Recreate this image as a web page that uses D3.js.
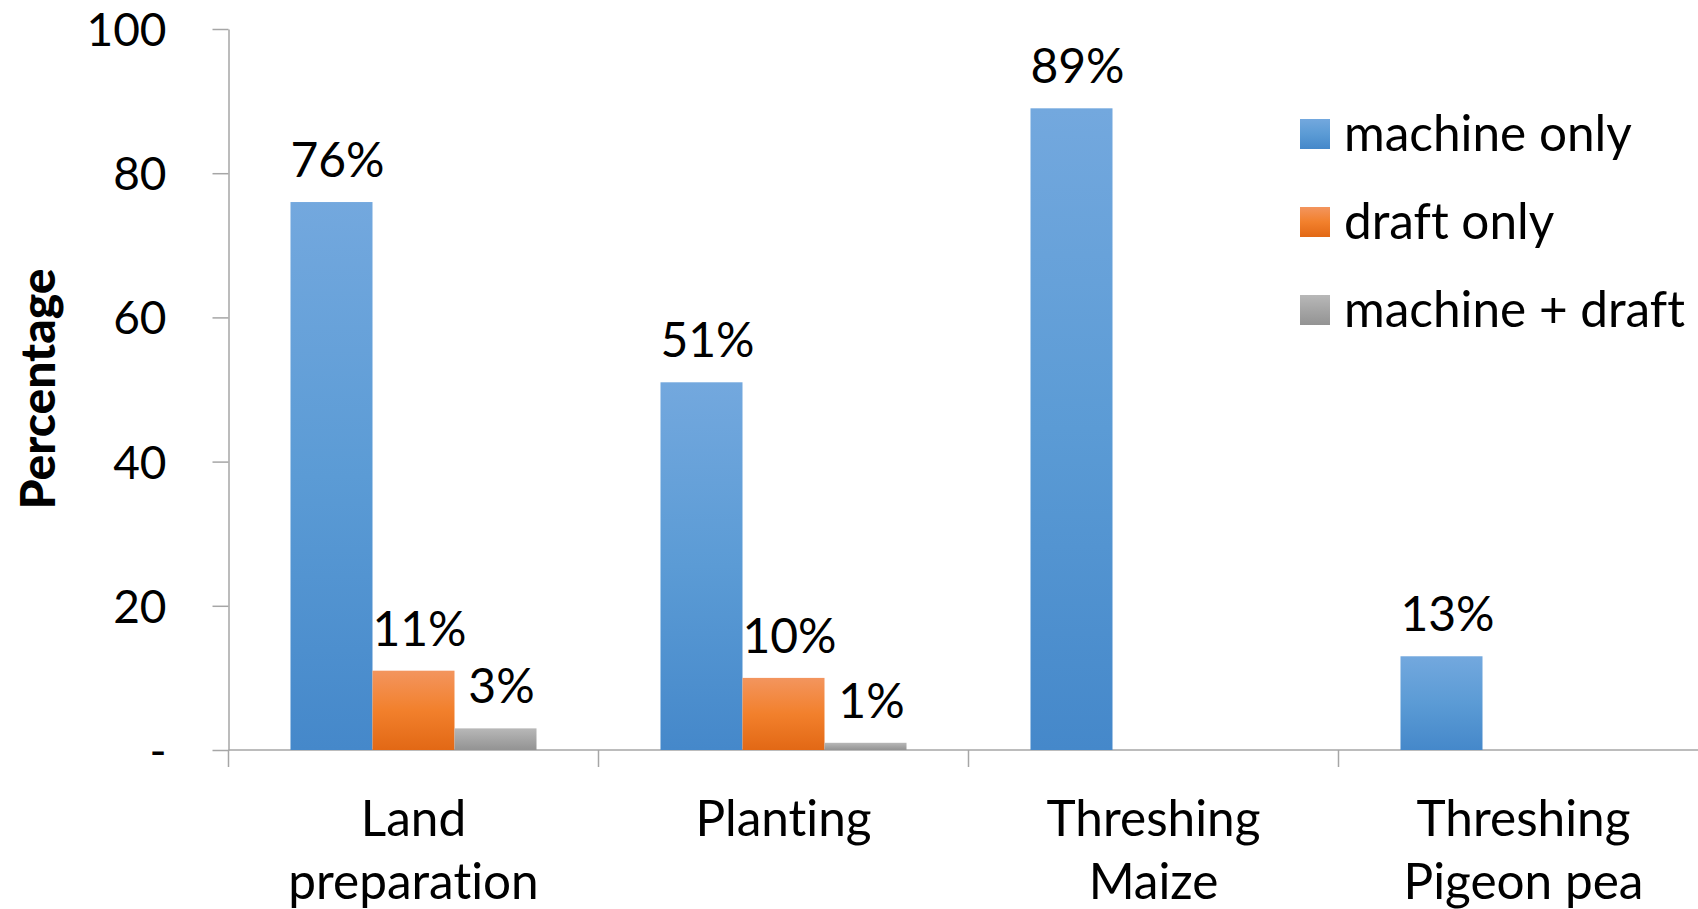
<!DOCTYPE html>
<html><head><meta charset="utf-8">
<script src="https://cdn.jsdelivr.net/npm/d3@7"></script>
<style>
html,body{margin:0;padding:0;background:#fff;}
svg{display:block;}
text{font-family:Lato,"Open Sans",sans-serif;fill:#000;font-variant-ligatures:none;font-feature-settings:"liga" 0,"dlig" 0;}
</style></head>
<body><svg id="chart" width="1698" height="909"></svg>
<script>
const categories = ["Land preparation", "Planting", "Threshing Maize", "Threshing Pigeon pea"];
const categoryLines = [["Land", "preparation"], ["Planting"], ["Threshing", "Maize"], ["Threshing", "Pigeon pea"]];
const seriesNames = ["machine only", "draft only", "machine + draft"];
const machineOnly = [76, 51, 89, 13];
const draftOnly = [11, 10, 0, 0];
const machinePlusDraft = [3, 1, 0, 0];
const yTickValues = [0, 20, 40, 60, 80, 100];
const yTickLabels = ["-", "20", "40", "60", "80", "100"];
const yTitle = "Percentage";

const seriesValues = [machineOnly, draftOnly, machinePlusDraft];
const gradStops = [
  ["#73a8de", "#5b9bd5", "#4588ca"],
  ["#f3955e", "#f2802c", "#e26815"],
  ["#b8b8b8", "#a5a5a5", "#939393"]
];

const svg = d3.select("#chart");
const defs = svg.append("defs");
gradStops.forEach((s, i) => {
  const g = defs.append("linearGradient").attr("id", "g" + i)
    .attr("x1", 0).attr("y1", 0).attr("x2", 0).attr("y2", 1);
  g.append("stop").attr("offset", "0%").attr("stop-color", s[0]);
  g.append("stop").attr("offset", "50%").attr("stop-color", s[1]);
  g.append("stop").attr("offset", "100%").attr("stop-color", s[2]);
});

const x = d3.scaleBand().domain(categories).range([228.5, 1708.5]).paddingInner(0).paddingOuter(0);
const x1 = d3.scaleBand().domain(seriesNames).range([0, x.bandwidth()]).paddingInner(0).paddingOuter(0.756);
const y = d3.scaleLinear().domain([0, 100]).range([750, 29]);

const axisColor = "#a6a6a6";
const fs = 48;

// Y axis
const yAxis = d3.axisLeft(y).tickValues(yTickValues)
  .tickFormat((d, i) => yTickLabels[i]).tickSize(16).tickSizeOuter(0).tickPadding(46);
const gy = svg.append("g").attr("transform", "translate(228.5,0)").call(yAxis);
gy.select(".domain").attr("stroke", axisColor).attr("stroke-width", 1.5);
gy.selectAll(".tick line").attr("stroke", axisColor).attr("stroke-width", 1.5);
gy.selectAll(".tick text").style("font-size", "46px").style("font-family", "Lato")
  .attr("dy", "0.36em").attr("fill", "#000");

// X axis baseline
svg.append("line").attr("x1", x.range()[0]).attr("x2", 1698).attr("y1", y(0)).attr("y2", y(0))
  .attr("stroke", axisColor).attr("stroke-width", 1.5);
const bounds = categories.map(c => x(c)).concat([x.range()[1]]);
svg.selectAll(".xtick").data(bounds).join("line").attr("class", "xtick")
  .attr("x1", d => d).attr("x2", d => d).attr("y1", y(0)).attr("y2", y(0) + 17)
  .attr("stroke", axisColor).attr("stroke-width", 1.5);

// Category labels
categories.forEach((c, i) => {
  const cx = x(c) + x.bandwidth() / 2;
  const t = svg.append("text").attr("text-anchor", "middle")
    .attr("x", cx).attr("y", 836).style("font-size", "49.5px");
  categoryLines[i].forEach((ln, j) => {
    t.append("tspan").attr("x", cx).attr("dy", j === 0 ? 0 : 63).text(ln);
  });
});

// Bars
seriesNames.forEach((s, si) => {
  const data = categories.map((c, ci) => ({c, v: seriesValues[si][ci]}));
  svg.append("g").selectAll("rect").data(data.filter(d => d.v > 0)).join("rect")
    .attr("x", d => x(d.c) + x1(s)).attr("width", x1.bandwidth())
    .attr("y", d => y(d.v)).attr("height", d => y(0) - y(d.v))
    .attr("fill", `url(#g${si})`);
  svg.append("g").selectAll("text").data(data.filter(d => d.v > 0)).join("text")
    .attr("text-anchor", "middle")
    .attr("x", d => x(d.c) + x1(s) + x1.bandwidth() / 2 + 6)
    .attr("y", d => y(d.v) - 25)
    .style("font-size", fs + "px")
    .text(d => d.v + "%");
});

// Y title
svg.append("text").attr("transform", "translate(55,389) rotate(-90)")
  .attr("text-anchor", "middle").style("font-size", "48px").style("font-weight", "900")
  .text(yTitle);

// Legend
const leg = svg.append("g").attr("transform", "translate(1300,134)");
seriesNames.forEach((s, i) => {
  const g = leg.append("g").attr("transform", `translate(0,${i * 88})`);
  g.append("rect").attr("x", 0).attr("y", -15).attr("width", 30).attr("height", 30).attr("fill", `url(#g${i})`);
  g.append("text").attr("x", 44).attr("y", 17).style("font-size", "49.5px").text(s);
});
</script></body></html>
